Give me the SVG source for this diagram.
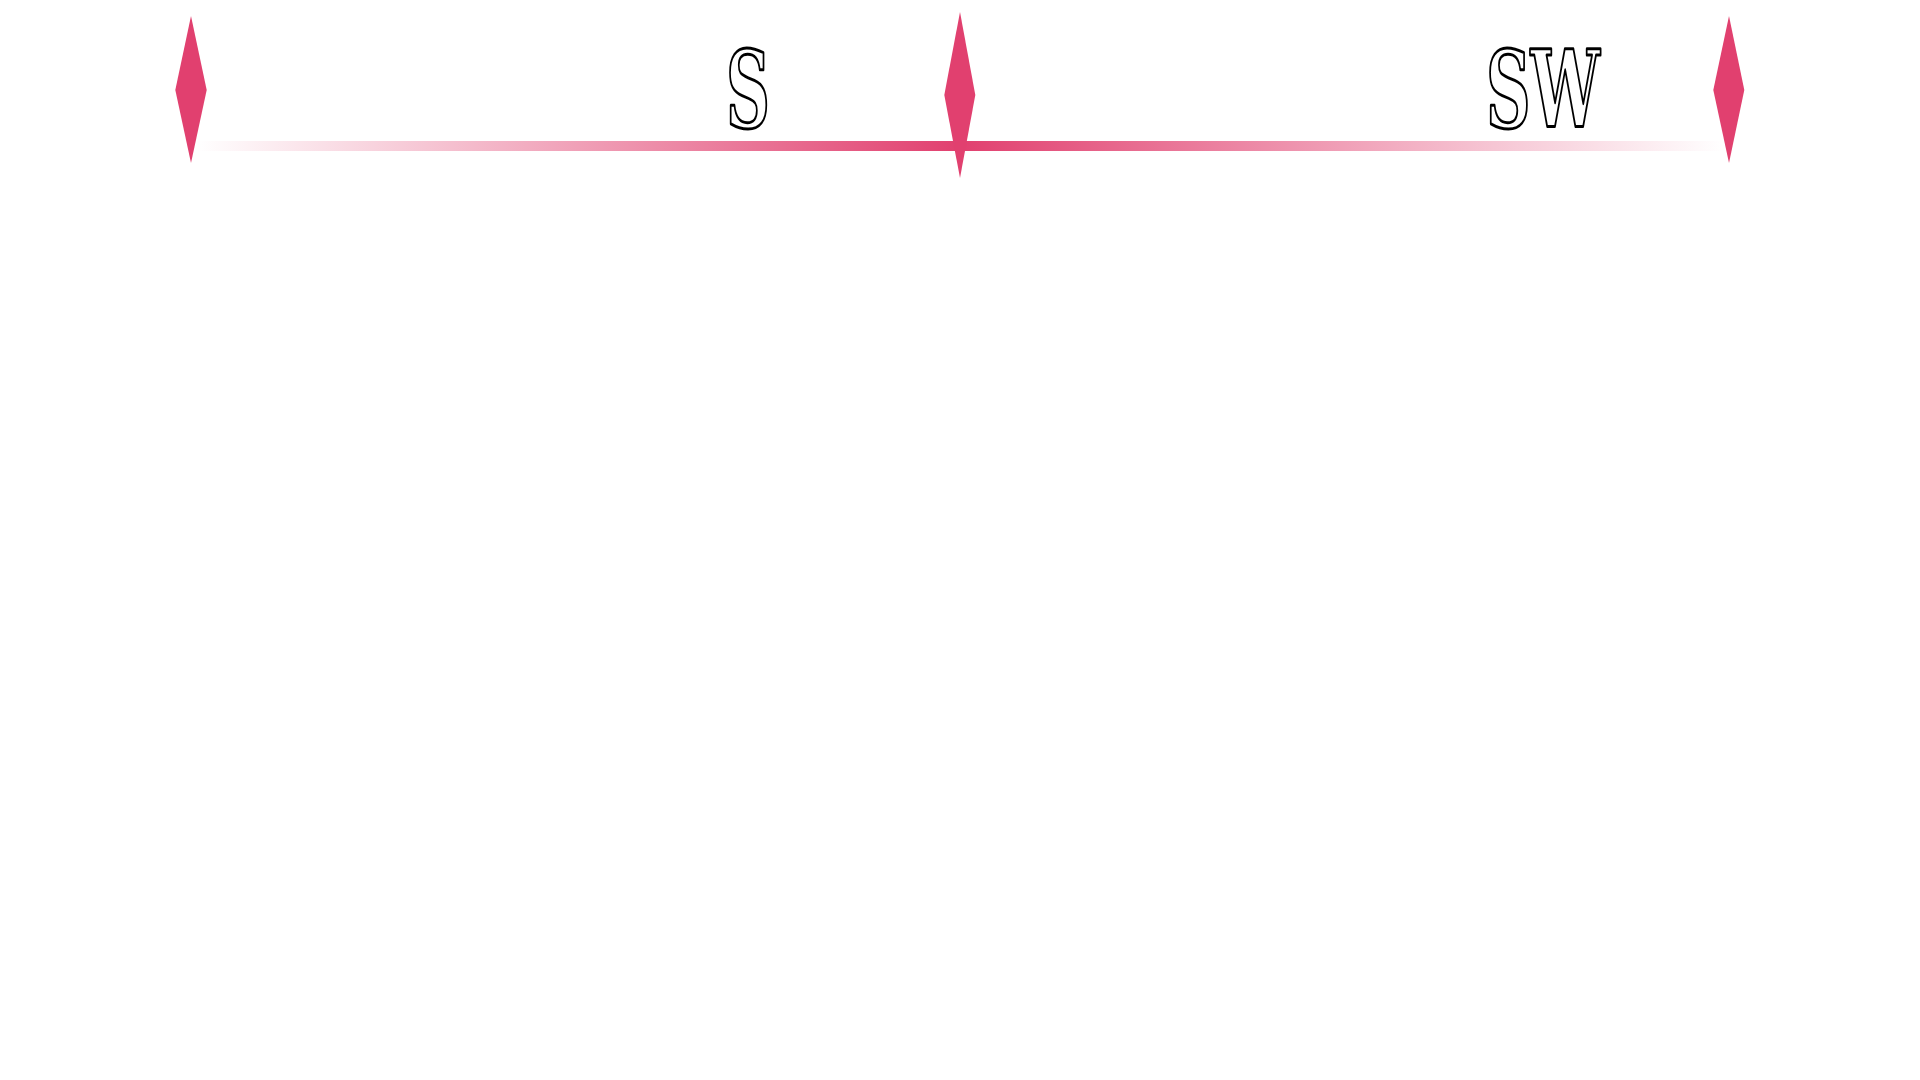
<svg xmlns="http://www.w3.org/2000/svg" width="1920" height="1080" viewBox="0 0 1920 1080">
  <defs>
    <linearGradient id="barGrad" gradientUnits="userSpaceOnUse" x1="197" y1="0" x2="1723" y2="0">
      <stop offset="0" stop-color="#E1406F" stop-opacity="0"/>
      <stop offset="0.5" stop-color="#E1406F" stop-opacity="1"/>
      <stop offset="1" stop-color="#E1406F" stop-opacity="0"/>
    </linearGradient>
  </defs>
  <style>
    .diamond { fill: #E1406F; }
    .label { font-family: "DejaVu Serif", "Liberation Serif", serif; font-weight: bold; font-size: 106px; fill: #ffffff; stroke: #000000; stroke-width: 3; stroke-linejoin: round; }
  </style>
  <rect width="1920" height="1080" fill="#ffffff"/>
  <g id="connectors">
    <rect x="197" y="141" width="1526" height="10" fill="url(#barGrad)"/>
  </g>
  <g id="marker-left">
    <polygon class="diamond" points="191,16 206.7,90 191,163 175.3,90"/>
  </g>
  <g id="marker-center">
    <polygon class="diamond" points="960,12 975.3,95 960,178 944.3,95"/>
  </g>
  <g id="marker-right">
    <polygon class="diamond" points="1729,16 1744.3,90 1729,163 1713.3,90"/>
  </g>
  <g id="label-s">
    <text class="label" x="726" y="127" textLength="44" lengthAdjust="spacingAndGlyphs">S</text>
  </g>
  <g id="label-sw">
    <text class="label" x="1486" y="127" textLength="114" lengthAdjust="spacingAndGlyphs">SW</text>
  </g>
</svg>
